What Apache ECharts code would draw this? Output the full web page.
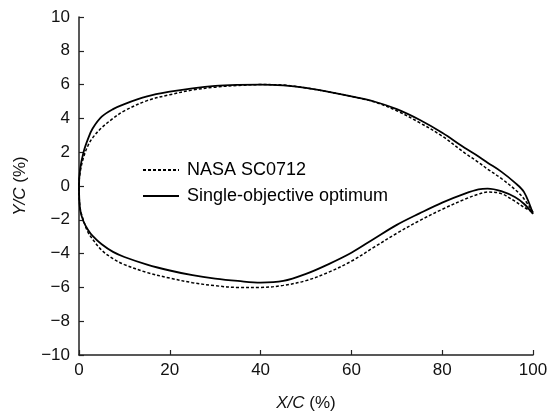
<!DOCTYPE html>
<html lang="en">
<head>
    <meta charset="UTF-8">
    <title>Airfoil</title>
    <style type="text/css">
        html, body { margin: 0; padding: 0; background: #fff; }
        #chart { width: 547px; height: 415px; }
    </style>
    <script type="text/javascript" src="https://cdn.jsdelivr.net/npm/echarts@6/dist/echarts.min.js"></script>
</head>
<body>
<div id="chart"></div>
<script type="text/javascript">
    // chordwise stations X/C (%)
    var xs = [0, 0.25, 1, 2, 3, 5, 7.5, 10, 15, 20, 25, 30, 35, 40, 45, 50, 55, 60, 65, 70, 75, 80, 85, 88, 90, 93, 96, 98, 100];

    // Y/C (%)
    var nasaUpper = [0, 0.8, 1.7, 2.4, 2.85, 3.45, 4.0, 4.45, 5.05, 5.4, 5.68, 5.85, 5.95, 6.0, 5.97, 5.8, 5.57, 5.3, 4.98, 4.45, 3.75, 2.95, 1.95, 1.4, 1.0, 0.45, -0.2, -0.75, -1.55];
    var nasaLower = [0, -1.3, -2.05, -2.75, -3.15, -3.8, -4.3, -4.65, -5.12, -5.45, -5.72, -5.9, -6.0, -6.0, -5.88, -5.6, -5.1, -4.45, -3.62, -2.8, -2.05, -1.38, -0.78, -0.48, -0.36, -0.45, -0.9, -1.25, -1.55];
    var optUpper = [0, 1.0, 2.0, 2.8, 3.4, 4.1, 4.55, 4.85, 5.3, 5.58, 5.78, 5.92, 5.98, 6.0, 5.95, 5.8, 5.57, 5.3, 5.0, 4.55, 3.92, 3.15, 2.25, 1.75, 1.38, 0.85, 0.2, -0.35, -1.65];
    var optLower = [0, -1.4, -2.1, -2.6, -2.95, -3.45, -3.9, -4.2, -4.65, -5.0, -5.28, -5.48, -5.62, -5.72, -5.62, -5.2, -4.62, -3.95, -3.12, -2.3, -1.62, -0.98, -0.45, -0.2, -0.15, -0.3, -0.65, -1.05, -1.65];

    var seriesNames = ['NASA SC0712', 'Single-objective optimum'];

    // trailing edge -> upper -> leading edge -> lower -> trailing edge
    function contour(upper, lower) {
        var pts = [];
        for (var i = xs.length - 1; i >= 0; i--) pts.push([xs[i], upper[i]]);
        for (var j = 1; j < xs.length; j++) pts.push([xs[j], lower[j]]);
        return pts;
    }

    function tickLabel(v) {
        return v < 0 ? '\u2212' + Math.abs(v) : String(v);
    }

    var font = 'Liberation Sans, Arial, sans-serif';
    var nameStyle = {
        fontFamily: font, fontSize: 17, color: '#111',
        rich: { i: { fontFamily: font, fontSize: 17, fontStyle: 'italic', color: '#111' } }
    };
    var chart = echarts.init(document.getElementById('chart'));
    chart.setOption({
        animation: false,
        backgroundColor: '#fff',
        textStyle: { fontFamily: font },
        grid: { left: 79, right: 14, top: 17, bottom: 60, outerBoundsMode: 'none', containLabel: false },
        legend: {
            orient: 'vertical',
            left: 137,
            top: 156,
            itemWidth: 36,
            itemHeight: 14,
            itemGap: 8,
            itemStyle: { opacity: 0 },
            textStyle: { fontFamily: font, fontSize: 18, color: '#000', padding: [0, 0, 0, 3] },
            data: seriesNames
        },
        xAxis: {
            type: 'value',
            min: 0, max: 100, interval: 20,
            name: '{i|X/C} (%)',
            nameLocation: 'middle',
            nameGap: 40,
            nameTextStyle: nameStyle,
            axisLine: { onZero: false, lineStyle: { color: '#222', width: 1.5 } },
            axisTick: { inside: true, length: 5, lineStyle: { color: '#222', width: 1.2 } },
            axisLabel: { fontFamily: font, fontSize: 17, color: '#111', margin: 7, formatter: tickLabel },
            splitLine: { show: false }
        },
        yAxis: {
            type: 'value',
            min: -10, max: 10, interval: 2,
            name: '{i|Y/C} (%)',
            nameLocation: 'middle',
            nameGap: 50,
            nameTextStyle: nameStyle,
            axisLine: { show: true, onZero: false, lineStyle: { color: '#222', width: 1.5 } },
            axisTick: { show: true, inside: true, length: 5, lineStyle: { color: '#222', width: 1.2 } },
            axisLabel: { fontFamily: font, fontSize: 17, color: '#111', margin: 9, formatter: tickLabel },
            splitLine: { show: false }
        },
        series: [
            {
                name: seriesNames[0],
                type: 'line',
                symbol: 'none',
                smooth: 0.35,
                data: contour(nasaUpper, nasaLower),
                lineStyle: { color: '#000', width: 1.5, type: [3, 2] },
                itemStyle: { color: '#000' }
            },
            {
                name: seriesNames[1],
                type: 'line',
                symbol: 'none',
                smooth: 0.35,
                data: contour(optUpper, optLower),
                lineStyle: { color: '#000', width: 1.8 },
                itemStyle: { color: '#000' }
            }
        ]
    });
</script>
</body>
</html>
